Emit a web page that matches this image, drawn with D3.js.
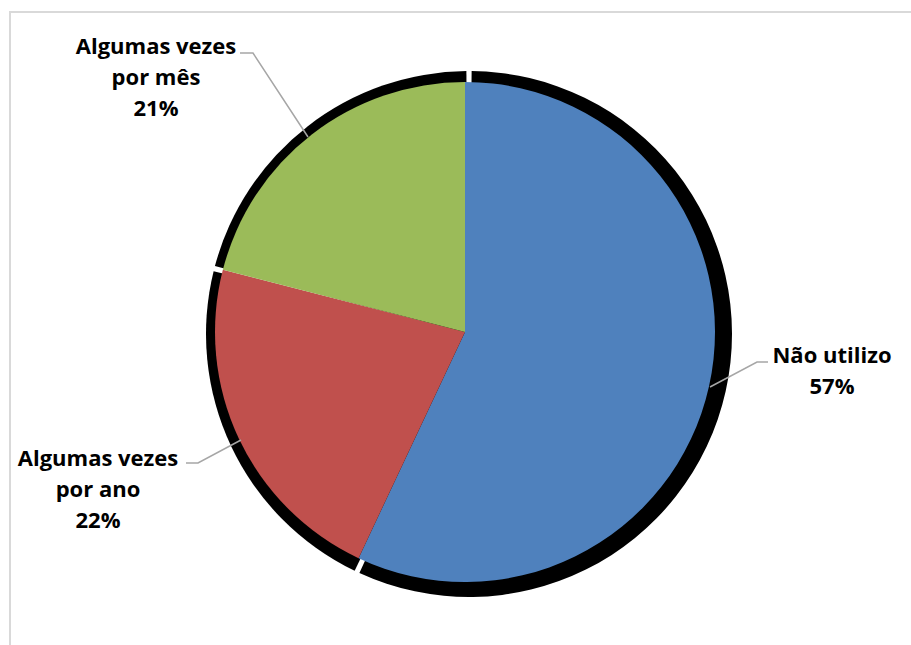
<!DOCTYPE html>
<html>
<head>
<meta charset="utf-8">
<script src="https://cdn.jsdelivr.net/npm/d3@7"></script>
<style>
  body { margin: 0; background: #fff; }
  svg { display: block; }
</style>
</head>
<body>
<svg id="chart"></svg>
<script>
// data
const categories = ["Não utilizo", "Algumas vezes por ano", "Algumas vezes por mês"];
const values = [57, 22, 21];
const labelLines = [["Não utilizo"], ["Algumas vezes", "por ano"], ["Algumas vezes", "por mês"]];
const colors = ["#4F81BD", "#C0504D", "#9BBB59"];

const W = 911, H = 645;
const cx = 465, cy = 332, r = 250;

const svg = d3.select("#chart").attr("width", W).attr("height", H);

// light grey chart frame (right/bottom edges run off the page)
svg.append("rect")
  .attr("x", 10).attr("y", 12)
  .attr("width", 920).attr("height", 700)
  .attr("fill", "none")
  .attr("stroke", "#d9d9d9")
  .attr("stroke-width", 2);

const pie = d3.pie().sort(null).value(d => d)(values);

// black shadow behind the pie
const shadowArc = d3.arc().innerRadius(0).outerRadius(263).padAngle(0.02);
svg.append("g")
  .attr("transform", `translate(${cx + 4},${cy + 2})`)
  .selectAll("path")
  .data(pie)
  .enter().append("path")
  .attr("d", shadowArc)
  .attr("fill", "#000");

const arc = d3.arc().innerRadius(0).outerRadius(r);
svg.append("g")
  .attr("transform", `translate(${cx},${cy})`)
  .selectAll("path")
  .data(pie)
  .enter().append("path")
  .attr("d", arc)
  .attr("fill", (d, i) => colors[i]);

// labels: centre x of text block, first baseline, leader polyline
const labelPos = [
  { x: 832, y: 363, line: [[710, 387], [757, 362], [768, 362]] },
  { x: 98, y: 466, line: [[241, 440], [198, 463], [186, 463]] },
  { x: 156, y: 54, line: [[308, 137], [253, 53], [240, 53]] }
];

const lineGen = d3.line();
const labels = svg.append("g");

pie.forEach((d, i) => {
  const p = labelPos[i];
  labels.append("path")
    .attr("d", lineGen(p.line))
    .attr("fill", "none")
    .attr("stroke", "#a6a6a6")
    .attr("stroke-width", 1.5);

  const t = labels.append("text")
    .attr("x", p.x).attr("y", p.y)
    .attr("text-anchor", "middle")
    .style("font-family", "'Open Sans', sans-serif")
    .style("font-weight", "bold")
    .style("font-size", "22px")
    .style("fill", "#000");
  const lines = labelLines[i].concat([d3.format(".0f")(values[i]) + "%"]);
  lines.forEach((s, j) => {
    t.append("tspan").attr("x", p.x).attr("dy", j === 0 ? 0 : 31).text(s);
  });
});
</script>
</body>
</html>
